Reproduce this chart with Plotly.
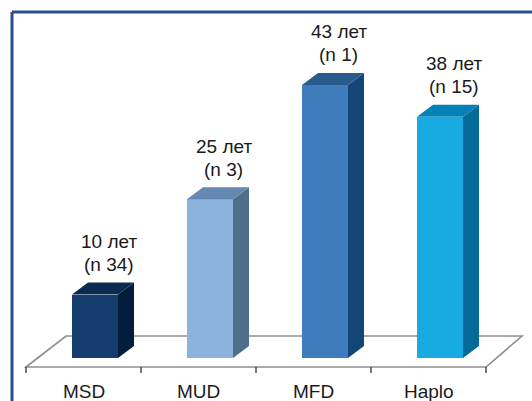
import plotly.graph_objects as go

# Median age by donor type, with the number of patients
categories = ["MSD", "MUD", "MFD", "Haplo"]
ages = [10, 25, 43, 38]
patients = [34, 3, 1, 15]
age_unit = "лет"

front_colors = ["#143d6d", "#8cb3dd", "#3f7cbc", "#17abe2"]
side_colors = ["#021d3b", "#4f6e8c", "#124676", "#056a97"]
top_colors = ["#0b2a4f", "#6588b2", "#2a5b8e", "#0381b8"]

W, H = 532, 401
PX_X = 115.0          # pixels per category
PX_Y = 6.35           # pixels per year
X0_PX, Y0_PX = 95.0, 358.0   # pixel position of category 0, value 0

bar_w = 0.4
dx = 16 / PX_X        # 3D depth, horizontal
dy = 12 / PX_Y        # 3D depth, vertical

fig = go.Figure()

# front faces
fig.add_trace(go.Bar(
    x=list(range(len(categories))), y=ages, width=bar_w,
    marker=dict(color=front_colors, line=dict(width=0)),
    hoverinfo="skip", showlegend=False,
))

# side and top faces
for i, v in enumerate(ages):
    r = i + bar_w / 2
    l = i - bar_w / 2
    fig.add_trace(go.Scatter(
        x=[r, r + dx, r + dx, r, r], y=[0, dy, v + dy, v, 0],
        fill="toself", fillcolor=side_colors[i], mode="lines",
        line=dict(width=0), hoverinfo="skip", showlegend=False,
    ))
    fig.add_trace(go.Scatter(
        x=[l, r, r + dx, l + dx, l], y=[v, v, v + dy, v + dy, v],
        fill="toself", fillcolor=top_colors[i], mode="lines",
        line=dict(width=0), hoverinfo="skip", showlegend=False,
    ))

# floor plane
n = len(categories)
fl, fr = -0.6, n - 0.6
floor_front = -9 / PX_Y
floor_back = 22 / PX_Y
bl, br = fl + 40 / PX_X, fr + 36 / PX_X
shapes = [dict(
    type="path", layer="below", xref="x", yref="y",
    path=f"M {fl},{floor_front} L {bl},{floor_back} L {br},{floor_back} L {fr},{floor_front} Z",
    line=dict(color="#8e8e8e", width=1.6), fillcolor="white",
)]
# category separators
for k in range(n + 1):
    xt = fl + k
    shapes.append(dict(
        type="line", xref="x", yref="y", x0=xt, x1=xt,
        y0=floor_front, y1=floor_front - 6 / PX_Y,
        line=dict(color="#4a4a4a", width=1.5),
    ))
# frame
shapes.append(dict(type="line", xref="paper", yref="paper",
                   x0=12 / W, x1=12 / W, y0=0, y1=1 - 12 / H,
                   line=dict(color="#2b4c91", width=3)))
shapes.append(dict(type="line", xref="paper", yref="paper",
                   x0=12 / W, x1=1, y0=1 - 12 / H, y1=1 - 12 / H,
                   line=dict(color="#2b4c91", width=3)))

annotations = []
font = dict(family="Liberation Sans", size=19, color="#1a1a1a")
for i, (v, p) in enumerate(zip(ages, patients)):
    top = v + dy
    annotations.append(dict(x=i + 0.12, y=top + 18 / PX_Y, xref="x", yref="y",
                            text=f"(n {p})", showarrow=False, font=font,
                            xanchor="center", yanchor="middle"))
    annotations.append(dict(x=i + 0.12, y=top + 41 / PX_Y, xref="x", yref="y",
                            text=f"{v} {age_unit}", showarrow=False, font=font,
                            xanchor="center", yanchor="middle"))
    annotations.append(dict(x=i - 0.1, y=-33 / PX_Y, xref="x", yref="y",
                            text=categories[i], showarrow=False, font=font,
                            xanchor="center", yanchor="middle"))

fig.update_layout(
    width=W, height=H,
    margin=dict(l=0, r=0, t=0, b=0),
    paper_bgcolor="white", plot_bgcolor="white",
    xaxis=dict(range=[-X0_PX / PX_X, (W - X0_PX) / PX_X], visible=False, fixedrange=True),
    yaxis=dict(range=[-(H - Y0_PX) / PX_Y, Y0_PX / PX_Y], visible=False, fixedrange=True),
    shapes=shapes, annotations=annotations,
    bargap=0, showlegend=False,
)

fig.write_html("out.html", config={"displayModeBar": False})
